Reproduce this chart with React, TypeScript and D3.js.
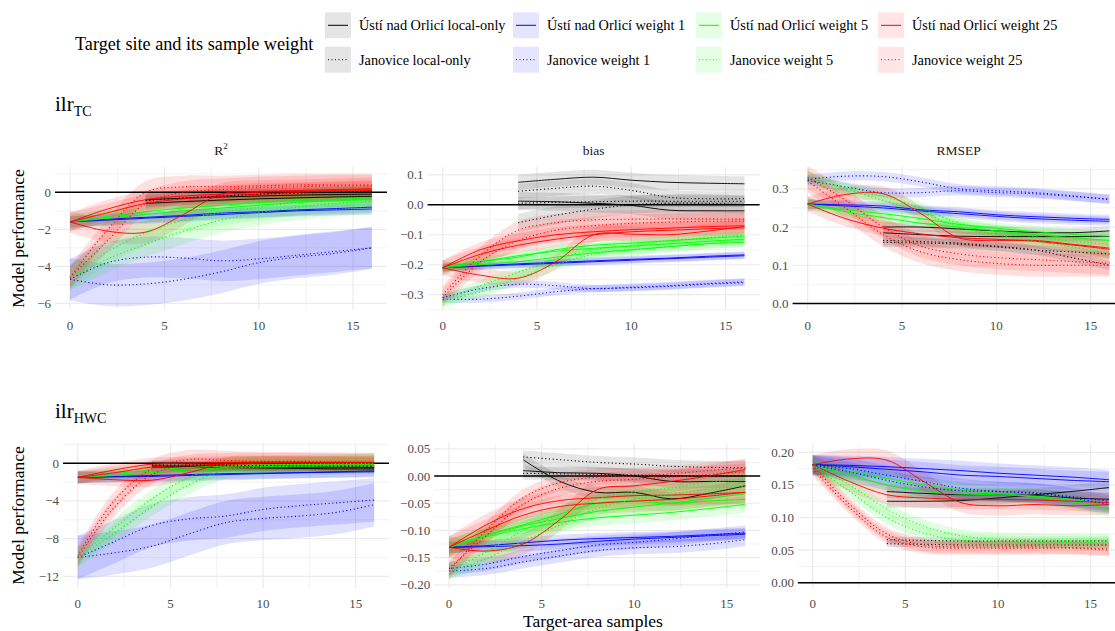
import React from "react";
import * as d3 from "d3";

type Line = { s: string; w: number; v: number[] };

// x positions of the read-off knots
const X_KNOTS = [0, 2, 4, 6, 8, 10, 12, 14, 16];
const LOCAL_X_KNOTS = [4, 6, 8, 10, 12, 14, 16];
const X_TICKS = [0, 5, 10, 15];
const X_MINOR = [2.5, 7.5, 12.5];

const SERIES_KEYS = ["U0", "U1", "U5", "U25", "J0", "J1", "J5", "J25"];
const SERIES_LABELS: Record<string, string> = {
  U0: "Ústí nad Orlicí local-only",
  U1: "Ústí nad Orlicí weight 1",
  U5: "Ústí nad Orlicí weight 5",
  U25: "Ústí nad Orlicí weight 25",
  J0: "Janovice local-only",
  J1: "Janovice weight 1",
  J5: "Janovice weight 5",
  J25: "Janovice weight 25",
};
const LEGEND_ROWS = [
  ["U0", "U1", "U5", "U25"],
  ["J0", "J1", "J5", "J25"],
];
const LEGEND_TITLE = "Target site and its sample weight";
const METRIC_TITLES = ["R2", "bias", "RMSEP"];
const ROW_TITLES = [
  ["ilr", "TC"],
  ["ilr", "HWC"],
];

// ---- ilr_TC, R² ----
const tcR2: Line[] = [
  { s: "U0", w: 0.35, v: [-0.6, -0.5, -0.42, -0.35, -0.3, -0.25, -0.22] },
  { s: "U0", w: 0.4, v: [-0.4, -0.32, -0.25, -0.2, -0.15, -0.12, -0.1] },
  { s: "J0", w: 0.3, v: [-0.45, -0.3, -0.2, -0.1, -0.05, 0.0, 0.05] },
  { s: "U1", w: 0.3, v: [-1.6, -1.5, -1.4, -1.3, -1.2, -1.1, -1.0, -0.95, -0.9] },
  { s: "U1", w: 0.3, v: [-1.6, -1.45, -1.35, -1.25, -1.12, -1.05, -0.95, -0.88, -0.8] },
  { s: "U5", w: 0.4, v: [-1.6, -1.3, -1.05, -0.85, -0.7, -0.55, -0.45, -0.38, -0.3] },
  { s: "U5", w: 0.4, v: [-1.6, -1.4, -1.2, -1.0, -0.85, -0.7, -0.55, -0.45, -0.4] },
  { s: "U25", w: 0.5, v: [-1.6, -0.9, -0.4, -0.2, -0.1, 0.0, 0.05, 0.1, 0.15] },
  { s: "U25", w: 0.6, v: [-1.6, -2.1, -2.15, -1.2, -0.1, 0.05, 0.1, 0.15, 0.2] },
  { s: "U25", w: 0.5, v: [-1.6, -1.1, -0.6, -0.35, -0.2, -0.1, 0.0, 0.05, 0.1] },
  { s: "J1", w: 1.1, v: [-4.7, -3.8, -3.5, -3.55, -3.7, -3.6, -3.4, -3.2, -3.0] },
  { s: "J1", w: 1.15, v: [-4.7, -5.0, -4.95, -4.7, -4.3, -3.8, -3.5, -3.3, -3.0] },
  { s: "J5", w: 0.7, v: [-4.6, -3.2, -2.2, -1.5, -1.1, -0.8, -0.55, -0.4, -0.3] },
  { s: "J5", w: 0.7, v: [-4.6, -3.6, -2.8, -2.1, -1.5, -1.1, -0.8, -0.6, -0.5] },
  { s: "J25", w: 0.6, v: [-4.6, -2.0, 0.0, 0.3, 0.3, 0.35, 0.4, 0.4, 0.4] },
  { s: "J25", w: 0.6, v: [-4.6, -2.6, -0.6, 0.0, 0.15, 0.25, 0.3, 0.35, 0.35] },
];

// ---- ilr_TC, bias ----
const tcBias: Line[] = [
  { s: "U0", w: 0.025, v: [0.075, 0.085, 0.092, 0.082, 0.075, 0.072, 0.07] },
  { s: "U0", w: 0.03, v: [0.012, 0.01, 0.005, -0.002, -0.018, -0.02, -0.02] },
  { s: "J0", w: 0.025, v: [0.045, 0.055, 0.062, 0.048, 0.025, 0.02, 0.02] },
  { s: "J0", w: 0.03, v: [-0.06, -0.035, -0.015, 0.0, 0.005, 0.005, 0.0] },
  { s: "J0", w: 0.02, v: [0.005, 0.008, 0.01, 0.012, 0.012, 0.012, 0.012] },
  { s: "U1", w: 0.012, v: [-0.21, -0.205, -0.2, -0.195, -0.19, -0.185, -0.18, -0.175, -0.17] },
  { s: "U1", w: 0.012, v: [-0.21, -0.203, -0.197, -0.192, -0.187, -0.182, -0.178, -0.172, -0.167] },
  { s: "J1", w: 0.012, v: [-0.31, -0.28, -0.265, -0.27, -0.28, -0.275, -0.27, -0.263, -0.257] },
  { s: "J1", w: 0.012, v: [-0.315, -0.315, -0.305, -0.29, -0.28, -0.277, -0.272, -0.265, -0.26] },
  { s: "U5", w: 0.015, v: [-0.21, -0.19, -0.17, -0.155, -0.145, -0.138, -0.13, -0.122, -0.115] },
  { s: "U5", w: 0.015, v: [-0.21, -0.2, -0.19, -0.175, -0.16, -0.15, -0.14, -0.13, -0.125] },
  { s: "U5", w: 0.015, v: [-0.21, -0.19, -0.175, -0.15, -0.135, -0.128, -0.12, -0.112, -0.105] },
  { s: "J5", w: 0.02, v: [-0.32, -0.27, -0.225, -0.18, -0.15, -0.135, -0.12, -0.11, -0.1] },
  { s: "J5", w: 0.02, v: [-0.32, -0.29, -0.245, -0.2, -0.165, -0.15, -0.14, -0.13, -0.12] },
  { s: "U25", w: 0.025, v: [-0.21, -0.15, -0.12, -0.1, -0.09, -0.083, -0.078, -0.073, -0.07] },
  { s: "U25", w: 0.025, v: [-0.21, -0.165, -0.135, -0.115, -0.1, -0.09, -0.085, -0.08, -0.077] },
  { s: "U25", w: 0.025, v: [-0.21, -0.235, -0.245, -0.19, -0.1, -0.098, -0.1, -0.088, -0.072] },
  { s: "J25", w: 0.03, v: [-0.3, -0.17, -0.085, -0.06, -0.05, -0.048, -0.047, -0.047, -0.048] },
  { s: "J25", w: 0.03, v: [-0.31, -0.19, -0.12, -0.085, -0.07, -0.062, -0.058, -0.055, -0.055] },
];

// ---- ilr_TC, RMSEP ----
const tcRmsep: Line[] = [
  { s: "U0", w: 0.012, v: [0.2, 0.2, 0.195, 0.19, 0.186, 0.185, 0.19] },
  { s: "U0", w: 0.012, v: [0.185, 0.18, 0.176, 0.175, 0.175, 0.175, 0.175] },
  { s: "J0", w: 0.012, v: [0.16, 0.158, 0.155, 0.148, 0.14, 0.135, 0.13] },
  { s: "J0", w: 0.012, v: [0.165, 0.162, 0.158, 0.15, 0.14, 0.12, 0.1] },
  { s: "U1", w: 0.012, v: [0.26, 0.258, 0.255, 0.245, 0.24, 0.232, 0.227, 0.223, 0.22] },
  { s: "U1", w: 0.012, v: [0.26, 0.255, 0.25, 0.242, 0.235, 0.228, 0.222, 0.218, 0.215] },
  { s: "J1", w: 0.012, v: [0.325, 0.333, 0.332, 0.318, 0.3, 0.295, 0.29, 0.282, 0.272] },
  { s: "J1", w: 0.012, v: [0.322, 0.305, 0.29, 0.29, 0.295, 0.29, 0.287, 0.28, 0.273] },
  { s: "U5", w: 0.015, v: [0.26, 0.245, 0.235, 0.222, 0.207, 0.197, 0.188, 0.181, 0.176] },
  { s: "U5", w: 0.015, v: [0.26, 0.24, 0.225, 0.21, 0.2, 0.19, 0.18, 0.172, 0.165] },
  { s: "J5", w: 0.015, v: [0.33, 0.3, 0.27, 0.24, 0.2, 0.18, 0.163, 0.148, 0.13] },
  { s: "J5", w: 0.015, v: [0.33, 0.3, 0.28, 0.25, 0.21, 0.19, 0.175, 0.163, 0.155] },
  { s: "U25", w: 0.02, v: [0.26, 0.285, 0.287, 0.235, 0.172, 0.165, 0.165, 0.155, 0.145] },
  { s: "U25", w: 0.02, v: [0.26, 0.222, 0.197, 0.182, 0.172, 0.168, 0.163, 0.153, 0.142] },
  { s: "J25", w: 0.03, v: [0.33, 0.27, 0.2, 0.15, 0.13, 0.12, 0.115, 0.11, 0.105] },
  { s: "J25", w: 0.03, v: [0.32, 0.25, 0.18, 0.135, 0.115, 0.105, 0.1, 0.1, 0.1] },
];

// ---- ilr_HWC, R² ----
const hwcR2: Line[] = [
  { s: "U0", w: 0.5, v: [-0.3, -0.3, -0.3, -0.35, -0.4, -0.4, -0.45] },
  { s: "U0", w: 0.5, v: [-0.4, -0.4, -0.45, -0.5, -0.55, -0.6, -0.6] },
  { s: "J0", w: 0.4, v: [-0.2, -0.2, -0.2, -0.25, -0.25, -0.3, -0.3] },
  { s: "U1", w: 0.6, v: [-1.5, -1.4, -1.3, -1.2, -1.1, -1.05, -1.0, -0.95, -0.9] },
  { s: "U1", w: 0.6, v: [-1.5, -1.45, -1.4, -1.3, -1.2, -1.1, -1.0, -0.9, -0.8] },
  { s: "U5", w: 0.6, v: [-1.5, -1.1, -0.7, -0.45, -0.3, -0.2, -0.15, -0.1, -0.1] },
  { s: "U5", w: 0.6, v: [-1.5, -1.3, -1.0, -0.7, -0.45, -0.35, -0.3, -0.3, -0.3] },
  { s: "U25", w: 0.7, v: [-1.5, -0.7, -0.1, 0.0, 0.05, 0.1, 0.1, 0.1, 0.1] },
  { s: "U25", w: 0.7, v: [-1.5, -1.75, -1.8, -1.0, 0.0, 0.1, 0.1, 0.05, 0.0] },
  { s: "U25", w: 0.7, v: [-1.5, -1.0, -0.4, -0.2, -0.1, 0.0, 0.0, 0.0, 0.0] },
  { s: "J1", w: 2.3, v: [-10, -8.3, -6.6, -5.9, -5.6, -4.9, -4.5, -4.2, -3.9] },
  { s: "J1", w: 2.3, v: [-10, -9.5, -8.8, -7.5, -6.3, -5.85, -5.6, -5.2, -4.4] },
  { s: "J5", w: 1.0, v: [-10, -6.8, -3.8, -1.5, -0.4, -0.2, -0.1, -0.05, 0.0] },
  { s: "J5", w: 1.0, v: [-10, -7.4, -4.6, -2.3, -0.7, -0.4, -0.3, -0.2, -0.1] },
  { s: "J25", w: 1.0, v: [-9.8, -3.9, -0.6, 0.4, 0.3, 0.2, 0.2, 0.15, 0.1] },
  { s: "J25", w: 1.0, v: [-10, -4.6, -1.2, -0.1, 0.1, 0.1, 0.1, 0.05, 0.05] },
];

// ---- ilr_HWC, bias ----
const hwcBias: Line[] = [
  { s: "U0", w: 0.012, v: [0.03, -0.01, -0.03, -0.03, -0.042, -0.032, -0.018] },
  { s: "U0", w: 0.012, v: [0.01, 0.006, 0.005, 0.0, -0.01, -0.01, -0.01] },
  { s: "J0", w: 0.012, v: [0.035, 0.03, 0.025, 0.022, 0.018, 0.016, 0.015] },
  { s: "J0", w: 0.012, v: [0.005, 0.004, 0.003, 0.002, 0.0, 0.0, 0.0] },
  { s: "U1", w: 0.01, v: [-0.131, -0.128, -0.123, -0.118, -0.115, -0.113, -0.111, -0.108, -0.105] },
  { s: "U1", w: 0.01, v: [-0.131, -0.13, -0.128, -0.125, -0.12, -0.116, -0.113, -0.11, -0.107] },
  { s: "J1", w: 0.012, v: [-0.175, -0.17, -0.158, -0.147, -0.137, -0.132, -0.13, -0.125, -0.117] },
  { s: "J1", w: 0.012, v: [-0.17, -0.162, -0.148, -0.137, -0.127, -0.122, -0.116, -0.109, -0.103] },
  { s: "U5", w: 0.015, v: [-0.131, -0.112, -0.097, -0.085, -0.077, -0.072, -0.067, -0.06, -0.052] },
  { s: "U5", w: 0.015, v: [-0.131, -0.108, -0.09, -0.07, -0.05, -0.047, -0.05, -0.046, -0.043] },
  { s: "U5", w: 0.015, v: [-0.131, -0.11, -0.092, -0.078, -0.065, -0.057, -0.05, -0.041, -0.033] },
  { s: "J5", w: 0.015, v: [-0.175, -0.14, -0.1, -0.07, -0.042, -0.03, -0.022, -0.012, -0.005] },
  { s: "J5", w: 0.015, v: [-0.175, -0.152, -0.12, -0.09, -0.06, -0.043, -0.033, -0.025, -0.018] },
  { s: "U25", w: 0.02, v: [-0.131, -0.09, -0.06, -0.045, -0.04, -0.036, -0.035, -0.033, -0.03] },
  { s: "U25", w: 0.02, v: [-0.131, -0.1, -0.072, -0.056, -0.05, -0.046, -0.043, -0.037, -0.03] },
  { s: "U25", w: 0.02, v: [-0.131, -0.138, -0.125, -0.08, -0.025, -0.018, -0.01, 0.0, 0.012] },
  { s: "J25", w: 0.015, v: [-0.175, -0.1, -0.04, -0.012, -0.002, 0.0, 0.004, 0.01, 0.015] },
  { s: "J25", w: 0.015, v: [-0.17, -0.11, -0.052, -0.022, -0.01, -0.006, -0.002, 0.003, 0.008] },
];

// ---- ilr_HWC, RMSEP ----
const hwcRmsep: Line[] = [
  { s: "U0", w: 0.01, v: [0.125, 0.125, 0.126, 0.13, 0.135, 0.14, 0.146] },
  { s: "U0", w: 0.01, v: [0.14, 0.137, 0.135, 0.135, 0.134, 0.13, 0.128] },
  { s: "J0", w: 0.005, v: [0.066, 0.065, 0.064, 0.064, 0.064, 0.064, 0.064] },
  { s: "J0", w: 0.005, v: [0.06, 0.059, 0.058, 0.058, 0.058, 0.058, 0.058] },
  { s: "U1", w: 0.015, v: [0.181, 0.18, 0.178, 0.175, 0.172, 0.168, 0.165, 0.162, 0.158] },
  { s: "U1", w: 0.015, v: [0.181, 0.178, 0.174, 0.17, 0.165, 0.163, 0.16, 0.157, 0.155] },
  { s: "J1", w: 0.015, v: [0.18, 0.175, 0.165, 0.155, 0.145, 0.14, 0.138, 0.13, 0.12] },
  { s: "J1", w: 0.015, v: [0.18, 0.17, 0.157, 0.147, 0.141, 0.14, 0.137, 0.132, 0.125] },
  { s: "U5", w: 0.012, v: [0.181, 0.17, 0.16, 0.15, 0.142, 0.137, 0.132, 0.124, 0.113] },
  { s: "U5", w: 0.012, v: [0.181, 0.165, 0.15, 0.14, 0.136, 0.135, 0.133, 0.128, 0.12] },
  { s: "J5", w: 0.01, v: [0.18, 0.15, 0.113, 0.087, 0.072, 0.067, 0.066, 0.065, 0.065] },
  { s: "J5", w: 0.01, v: [0.18, 0.14, 0.1, 0.076, 0.065, 0.063, 0.062, 0.062, 0.062] },
  { s: "U25", w: 0.015, v: [0.181, 0.19, 0.188, 0.155, 0.123, 0.118, 0.12, 0.118, 0.12] },
  { s: "U25", w: 0.015, v: [0.181, 0.155, 0.135, 0.13, 0.128, 0.128, 0.127, 0.125, 0.123] },
  { s: "J25", w: 0.01, v: [0.18, 0.12, 0.075, 0.058, 0.055, 0.055, 0.055, 0.054, 0.052] },
  { s: "J25", w: 0.01, v: [0.175, 0.115, 0.07, 0.055, 0.053, 0.053, 0.053, 0.053, 0.05] },
];

// y-axis tick values per panel
const TICKS_TC_R2 = [-6, -4, -2, 0];
const MINOR_TC_R2 = [-5, -3, -1, 1];
const TICKS_TC_BIAS = [-0.3, -0.2, -0.1, 0, 0.1];
const MINOR_TC_BIAS = [-0.35, -0.25, -0.15, -0.05, 0.05];
const TICKS_TC_RMSEP = [0, 0.1, 0.2, 0.3];
const MINOR_TC_RMSEP = [0.05, 0.15, 0.25, 0.35];
const TICKS_HWC_R2 = [-12, -8, -4, 0];
const MINOR_HWC_R2 = [-10, -6, -2, 2];
const TICKS_HWC_BIAS = [-0.2, -0.15, -0.1, -0.05, 0, 0.05];
const MINOR_HWC_BIAS = [-0.175, -0.125, -0.075, -0.025, 0.025];
const TICKS_HWC_RMSEP = [0, 0.05, 0.1, 0.15, 0.2];
const MINOR_HWC_RMSEP = [0.025, 0.075, 0.125, 0.175];

type PanelSpec = {
  lines: Line[];
  domain: [number, number];
  ticks: number[];
  minor: number[];
  fmt: string;
};

const PANELS: PanelSpec[][] = [
  [
    { lines: tcR2, domain: [-6.36, 1.37], ticks: TICKS_TC_R2, minor: MINOR_TC_R2, fmt: ".0f" },
    { lines: tcBias, domain: [-0.351, 0.126], ticks: TICKS_TC_BIAS, minor: MINOR_TC_BIAS, fmt: ".1f" },
    { lines: tcRmsep, domain: [-0.017, 0.357], ticks: TICKS_TC_RMSEP, minor: MINOR_TC_RMSEP, fmt: ".1f" },
  ],
  [
    { lines: hwcR2, domain: [-13.24, 2.15], ticks: TICKS_HWC_R2, minor: MINOR_HWC_R2, fmt: ".0f" },
    { lines: hwcBias, domain: [-0.2059, 0.0607], ticks: TICKS_HWC_BIAS, minor: MINOR_HWC_BIAS, fmt: ".2f" },
    { lines: hwcRmsep, domain: [-0.008, 0.2143], ticks: TICKS_HWC_RMSEP, minor: MINOR_HWC_RMSEP, fmt: ".2f" },
  ],
];

// ---------- styling / layout ----------
const COLORS: Record<string, string> = {
  U0: "#000000", J0: "#000000",
  U1: "#0000ff", J1: "#0000ff",
  U5: "#00ff00", J5: "#00ff00",
  U25: "#ff0000", J25: "#ff0000",
};
const isDotted = (s: string) => s.startsWith("J");
const isLocal = (s: string) => s === "U0" || s === "J0";

const FONT = "'Liberation Serif', 'Times New Roman', serif";
const ROW_LAYOUT = [
  { top: 167, bottom: 310, lefts: [55, 427.6, 792.6], width: 332 },
  { top: 443, bottom: 588, lefts: [63, 434.2, 797.9], width: 326 },
];
const X_DOMAIN: [number, number] = [-0.8, 16.8];

function Panel({ spec, left, width, top, bottom }: { spec: PanelSpec; left: number; width: number; top: number; bottom: number }) {
  const x = d3.scaleLinear().domain(X_DOMAIN).range([left, left + width]);
  const y = d3.scaleLinear().domain(spec.domain).range([bottom, top]);
  const fmt = d3.format(spec.fmt);
  const curve = d3.curveCatmullRom.alpha(0.5);
  const lineGen = d3
    .line<[number, number]>()
    .x((d) => x(d[0]))
    .y((d) => y(d[1]))
    .curve(curve);
  const areaGen = d3
    .area<[number, number, number]>()
    .x((d) => x(d[0]))
    .y0((d) => y(d[1]))
    .y1((d) => y(d[2]))
    .curve(curve);

  const ordered = [...spec.lines].sort(
    (a, b) => SERIES_KEYS.indexOf(a.s) - SERIES_KEYS.indexOf(b.s)
  );
  const knotsOf = (l: Line) => (l.v.length === LOCAL_X_KNOTS.length ? LOCAL_X_KNOTS : X_KNOTS);

  return (
    <g>
      {/* grid */}
      {spec.minor.map((t) => (
        <line key={"mh" + t} x1={left} x2={left + width} y1={y(t)} y2={y(t)} stroke="#ebebeb" strokeWidth={0.6} />
      ))}
      {X_MINOR.map((t) => (
        <line key={"mv" + t} x1={x(t)} x2={x(t)} y1={top} y2={bottom} stroke="#ebebeb" strokeWidth={0.6} />
      ))}
      {spec.ticks.map((t) => (
        <line key={"h" + t} x1={left} x2={left + width} y1={y(t)} y2={y(t)} stroke="#ebebeb" strokeWidth={1.2} />
      ))}
      {X_TICKS.map((t) => (
        <line key={"v" + t} x1={x(t)} x2={x(t)} y1={top} y2={bottom} stroke="#ebebeb" strokeWidth={1.2} />
      ))}
      {/* ribbons */}
      {ordered.map((l, i) => {
        const k = knotsOf(l);
        const pts = l.v.map((v, j) => [k[j], v - l.w, v + l.w] as [number, number, number]);
        return (
          <path key={"r" + i} d={areaGen(pts) || ""} fill={COLORS[l.s]} fillOpacity={isLocal(l.s) ? 0.1 : 0.12} stroke="none" />
        );
      })}
      {/* zero reference */}
      <line x1={left} x2={left + width} y1={y(0)} y2={y(0)} stroke="#000" strokeWidth={1.5} />
      {/* lines */}
      {ordered.map((l, i) => {
        const k = knotsOf(l);
        const pts = l.v.map((v, j) => [k[j], v] as [number, number]);
        return (
          <path
            key={"l" + i}
            d={lineGen(pts) || ""}
            fill="none"
            stroke={COLORS[l.s]}
            strokeWidth={isDotted(l.s) ? 1.1 : 0.9}
            strokeDasharray={isDotted(l.s) ? "1.1 2.6" : undefined}
          />
        );
      })}
      {/* tick labels */}
      {spec.ticks.map((t) => (
        <text key={"yl" + t} x={left - 4} y={y(t)} dy="0.35em" textAnchor="end" fontSize={13} fill="#4d4d4d" fontFamily={FONT}>
          {fmt(t)}
        </text>
      ))}
      {X_TICKS.map((t) => (
        <text key={"xl" + t} x={x(t)} y={bottom + 15} dy="0.35em" textAnchor="middle" fontSize={13} fill="#4d4d4d" fontFamily={FONT}>
          {t}
        </text>
      ))}
    </g>
  );
}

export default function App() {
  const W = 1115;
  const H = 631;
  const legendCols = [325, 513, 696, 878];
  const legendRowsY = [12.3, 46.7];
  return (
    <svg
      width={W}
      height={H}
      style={{ position: "absolute", left: 0, top: 0, background: "#fff" }}
      fontFamily={FONT}
    >
      <rect x={0} y={0} width={W} height={H} fill="#fff" />
      {/* legend */}
      <text x={75} y={44} dy="0.35em" fontSize={18.2} fill="#000">
        {LEGEND_TITLE}
      </text>
      {LEGEND_ROWS.map((row, ri) =>
        row.map((s, ci) => {
          const kx = legendCols[ci];
          const ky = legendRowsY[ri];
          return (
            <g key={s}>
              <rect x={kx} y={ky} width={26} height={26} fill={COLORS[s]} fillOpacity={0.1} />
              <line
                x1={kx + 3}
                x2={kx + 23}
                y1={ky + 13}
                y2={ky + 13}
                stroke={COLORS[s]}
                strokeWidth={1}
                strokeDasharray={isDotted(s) ? "1 2.5" : undefined}
              />
              <text x={kx + 34} y={ky + 13} dy="0.35em" fontSize={14.3} fill="#000">
                {SERIES_LABELS[s]}
              </text>
            </g>
          );
        })
      )}
      {/* row titles */}
      {ROW_TITLES.map((rt, ri) => (
        <text key={"rt" + ri} x={55} y={ri === 0 ? 111 : 418} fontSize={21} fill="#000">
          {rt[0]}
          <tspan fontSize={14} dy={5}>
            {rt[1]}
          </tspan>
        </text>
      ))}
      {/* strip titles (top row only) */}
      {METRIC_TITLES.map((m, ci) => {
        const L = ROW_LAYOUT[0];
        const cx = L.lefts[ci] + L.width / 2;
        return (
          <text key={"st" + m} x={cx} y={150} dy="0.35em" textAnchor="middle" fontSize={13.5} fill="#1a1a1a">
            {m === "R2" ? (
              <>
                R<tspan fontSize={9} dy={-6}>2</tspan>
              </>
            ) : (
              m
            )}
          </text>
        );
      })}
      {/* panels */}
      {PANELS.map((row, ri) =>
        row.map((spec, ci) => {
          const L = ROW_LAYOUT[ri];
          return (
            <Panel key={ri + "-" + ci} spec={spec} left={L.lefts[ci]} width={L.width} top={L.top} bottom={L.bottom} />
          );
        })
      )}
      {/* y axis titles */}
      {ROW_LAYOUT.map((L, ri) => (
        <text
          key={"yt" + ri}
          transform={`translate(18,${(L.top + L.bottom) / 2}) rotate(-90)`}
          textAnchor="middle"
          dy="0.35em"
          fontSize={17.5}
          fill="#000"
        >
          Model performance
        </text>
      ))}
      {/* x axis title */}
      <text x={593} y={621} dy="0.35em" textAnchor="middle" fontSize={17.5} fill="#000">
        Target-area samples
      </text>
    </svg>
  );
}
